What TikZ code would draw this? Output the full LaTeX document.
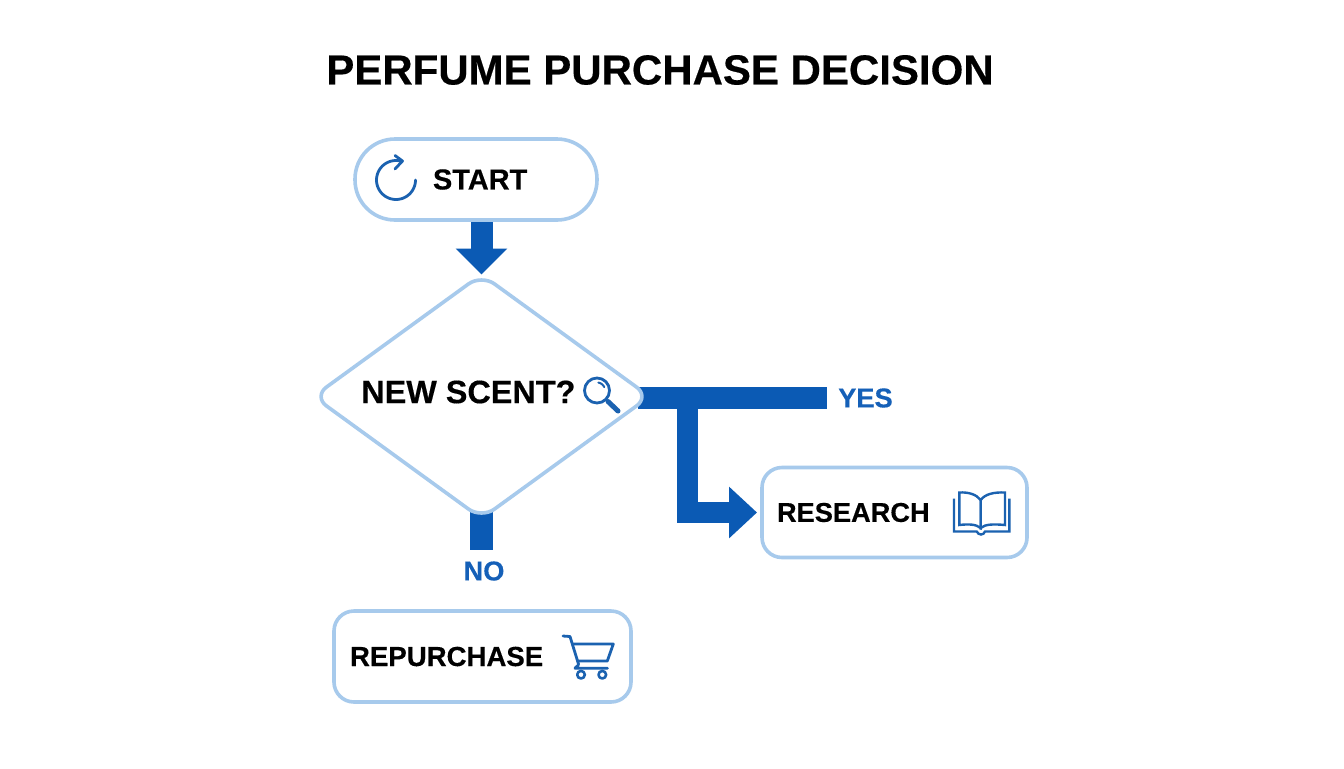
\documentclass[tikz,border=0pt]{standalone}
\usepackage{fontspec}
\setmainfont[BoldFeatures={FakeBold=0.35}]{Liberation Sans}
\usetikzlibrary{arrows.meta,shapes.geometric,backgrounds}
\newcommand{\pxu}{0.75pt}
\definecolor{flowblue}{HTML}{0B5AB4}
\definecolor{edgeblue}{HTML}{A7CAEC}
\definecolor{iconblue}{HTML}{1B62B0}
\definecolor{labelblue}{HTML}{1560B8}
\tikzset{
  x=0.75pt,y=-0.75pt,
  boxnode/.style={draw=edgeblue,line width=3.6*\pxu,fill=white,outer sep=0pt,align=left,inner ysep=0pt,text=black},
  flowline/.style={draw=flowblue,line join=miter},
  iconline/.style={draw=iconblue,line width=2.8*\pxu,line cap=round,line join=round},
  branchlabel/.style={font=\bfseries\fontsize{20.4pt}{24pt}\selectfont,text=labelblue,inner sep=0pt},
}
\begin{document}
\begin{tikzpicture}
\useasboundingbox (0,0) rectangle (1344,768);
\begin{scope}[on background layer]
\fill[white] (0,0) rectangle (1344,768);
\end{scope}
\node[inner sep=0pt,font=\bfseries\fontsize{31.5pt}{36pt}\selectfont,text=black] (title) at (660,70) {PERFUME PURCHASE DECISION};

\node[boxnode,font=\bfseries\fontsize{21.7pt}{24pt}\selectfont,rounded corners=40*\pxu,minimum height=81*\pxu,inner xsep=78*\pxu,text width=86*\pxu] (start) at (476,179.5) {START};
\node[diamond,draw=edgeblue,line width=3.6*\pxu,fill=white,outer sep=0pt,inner sep=0pt,rounded corners=16*\pxu,minimum width=336*\pxu,minimum height=244*\pxu,aspect=1.377] (decision) at (481.5,396.5) {};
\node[inner sep=0pt,anchor=west,font=\bfseries\fontsize{24.3pt}{28pt}\selectfont,text=black] (decisionlabel) at (361,392) {NEW SCENT?};
\node[boxnode,font=\bfseries\fontsize{20.4pt}{24pt}\selectfont,rounded corners=20*\pxu,minimum height=90*\pxu,inner xsep=15*\pxu,text width=235*\pxu] (research) at (894.5,512.5) {RESEARCH};
\node[boxnode,font=\bfseries\fontsize{20.7pt}{24pt}\selectfont,rounded corners=20*\pxu,minimum height=91*\pxu,inner xsep=16*\pxu,text width=265*\pxu] (repurchase) at (482.5,656.5) {REPURCHASE};

\coordinate (yesend) at (827,398);
\coordinate (junction) at (687.5,398);
\coordinate (noend) at (481.5,550);
\node[branchlabel,anchor=west] (yes) at (838,398) {YES};
\node[branchlabel] (no) at (484,571) {NO};

\begin{scope}[on background layer]
\draw[flowline,line width=22*\pxu,-{Triangle[length=26*\pxu,width=50*\pxu]}] (decision.north |- start.south) -- (decision.north);
\draw[flowline,line width=22*\pxu,shorten <=-12*\pxu] (decision.east |- yesend) -- (yesend);
\draw[flowline,line width=21*\pxu,shorten >=5*\pxu,-{Triangle[length=28*\pxu,width=50*\pxu]}] (junction) |- (research.west);
\draw[flowline,line width=23*\pxu,shorten <=-10*\pxu] (noend |- decision.south) -- (noend);
\end{scope}

% refresh icon
\draw[iconline] plot[domain=0:285,samples=50] ({396+19.5*cos(\x)},{180+19.5*sin(\x)});
\draw[iconline] (395,155.5) -- (402.5,161) -- (395,169);
% magnifier icon
\draw[iconline] (597,390.5) circle (12.5);
\draw[iconline,line width=2*\pxu] plot[domain=-80:-25,samples=12] ({597+8*cos(\x)},{390.5+8*sin(\x)});
\draw[iconline,line width=5*\pxu] (608,401.5) -- (618,411);
% book icon
\draw[iconline,line cap=butt,line join=miter,line width=2.4*\pxu] (954,498.5) -- (954,531.5) -- (976.7,531.5) .. controls (978,533.5) and (979,534.5) .. (981,534.5) .. controls (983,534.5) and (984,533.5) .. (985,531.5) -- (1009.3,531.5) -- (1009.3,498.5);
\draw[iconline,line join=miter,line width=2.4*\pxu] (959.3,492.5) .. controls (968,492) and (976,494) .. (980.7,500) -- (980.7,528) .. controls (976,524) and (968,524) .. (959.3,525) -- cycle;
\draw[iconline,line join=miter,line width=2.4*\pxu] (1005,492.5) .. controls (994,492) and (985,494) .. (980.7,500) -- (980.7,528) .. controls (985,524) and (994,524) .. (1005,525) -- cycle;
% cart icon
\draw[iconline,line width=2.8*\pxu] (563,636) -- (570,636.5) -- (578.5,664) .. controls (579,666) and (577,666) .. (576,667) -- (575,668.3) -- (607.5,668.3);
\draw[iconline,line width=2.8*\pxu] (572.5,644) -- (613.3,644) -- (607.3,661) -- (577.5,661);
\draw[iconline,line width=2.6*\pxu] (581,674.7) circle (3.8);
\draw[iconline,line width=2.6*\pxu] (602.3,674.7) circle (3.8);
\end{tikzpicture}
\end{document}
